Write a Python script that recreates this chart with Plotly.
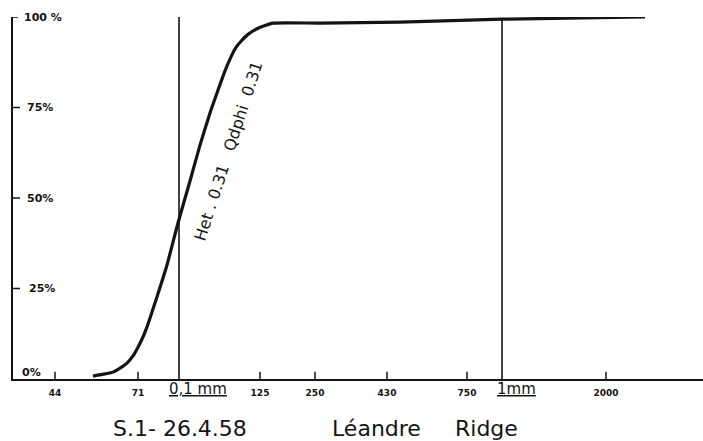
import plotly.graph_objects as go

# Sieve openings (µm) and their positions along the hand-ruled size axis
sieve_labels = ["44", "71", "125", "250", "430", "750", "2000"]
sieve_pos = [42, 125, 247, 302, 374, 454, 593]

# Reference grain sizes marked by full-height lines
ref_labels = ["0,1 mm", "1mm"]
ref_pos = [166, 489]
ref_top = [100.6, 99.4]
ref_label_pos = [185, 503]

# Cumulative curve: position on the size axis vs cumulative weight (%)
curve_pos = [80, 92, 100, 107, 114, 120, 125, 130, 134, 139, 144, 154, 165,
             177, 187, 197, 204, 212, 218, 223, 228, 235, 245, 260, 307, 387,
             489, 632]
curve_pct = [0.8, 1.4, 1.9, 3.0, 4.4, 6.4, 8.8, 11.6, 14.4, 18.5, 22.7, 31.5,
             43.1, 54.7, 64.6, 73.5, 79.0, 85.1, 89.0, 91.6, 93.3, 95.2, 96.9,
             98.3, 98.3, 98.6, 99.4, 100.0]

# Percentage scale labels
pct_vals = [100, 75, 50, 25, 0]
pct_text = ["100 %", "75%", "50%", "25%", "0%"]
pct_ticks = [25, 50, 75]

INK = "#141414"
HAND = "DejaVu Sans"
TICK_UP = 2.0    # tick height on the size axis, in % units
TICK_RIGHT = 7   # tick length on the percentage scale, in size-axis units

fig = go.Figure()

# full-height lines at 0.1 mm and 1 mm
for x, top in zip(ref_pos, ref_top):
    fig.add_trace(go.Scatter(
        x=[x, x], y=[0, top], mode="lines",
        line=dict(color=INK, width=1.6),
        cliponaxis=False, hoverinfo="skip", showlegend=False))

# upward tick marks on the size axis, one short segment each
for p in sieve_pos:
    fig.add_trace(go.Scatter(
        x=[p, p], y=[0, TICK_UP], mode="lines",
        line=dict(color=INK, width=1.5),
        cliponaxis=False, hoverinfo="skip", showlegend=False))

# tick marks on the percentage scale (the 100 % mark crosses the scale)
for v in pct_ticks:
    fig.add_trace(go.Scatter(
        x=[0, TICK_RIGHT], y=[v, v], mode="lines",
        line=dict(color=INK, width=1.5),
        cliponaxis=False, hoverinfo="skip", showlegend=False))
fig.add_trace(go.Scatter(
    x=[-5, 5], y=[100, 100], mode="lines",
    line=dict(color=INK, width=1.6),
    cliponaxis=False, hoverinfo="skip", showlegend=False))

# cumulative grain-size curve
fig.add_trace(go.Scatter(
    x=curve_pos, y=curve_pct, mode="lines",
    line=dict(color=INK, width=3.2, shape="spline", smoothing=0.5),
    cliponaxis=False, showlegend=False))

annotations = []
# percentage labels sit to the right of the vertical scale
pct_x = [9, 12, 12, 14, 7]
pct_y = [100, 75, 50, 25, 1.9]
for t, xx, yy in zip(pct_text, pct_x, pct_y):
    annotations.append(dict(
        x=xx, y=yy, xref="x", yref="y", text="<b>" + t + "</b>",
        showarrow=False, xanchor="left", yanchor="middle",
        font=dict(family=HAND, size=11, color=INK)))

# underlined reference sizes
for t, xx in zip(ref_labels, ref_label_pos):
    annotations.append(dict(
        x=xx, y=(441 - 389) / 441, xref="x", yref="paper",
        text="<u>" + t + "</u>", showarrow=False,
        xanchor="center", yanchor="middle",
        font=dict(family=HAND, size=15, color=INK)))

# sorting coefficients written along the curve
annotations.append(dict(
    x=216, y=63, xref="x", yref="y",
    text="Het . 0.31   Qdphi  0.31", showarrow=False, textangle=-72,
    font=dict(family=HAND, size=16, color=INK)))

# sample reference and locality
for t, px in [("S.1- 26.4.58", 180), ("Léandre", 376), ("Ridge", 486)]:
    annotations.append(dict(
        x=px / 703, y=(441 - 428) / 441, xref="paper", yref="paper",
        text=t, showarrow=False, xanchor="center", yanchor="middle",
        font=dict(family=HAND, size=22, color=INK)))

fig.update_layout(
    width=703, height=441,
    margin=dict(l=0, r=0, t=0, b=0),
    paper_bgcolor="white", plot_bgcolor="white",
    showlegend=False,
    annotations=annotations,
    xaxis=dict(
        domain=[13 / 703, 1], range=[0, 690],
        showgrid=False, zeroline=False,
        showline=True, linecolor=INK, linewidth=1.6,
        tickmode="array", tickvals=sieve_pos,
        ticktext=["<b>" + s + "</b>" for s in sieve_labels],
        ticks="", ticklabelstandoff=4,
        tickfont=dict(family=HAND, size=9, color=INK),
        automargin=False, fixedrange=True),
    yaxis=dict(
        domain=[(441 - 379) / 441, (441 - 17) / 441], range=[0, 100],
        showgrid=False, zeroline=False,
        showline=True, linecolor=INK, linewidth=1.8,
        ticks="", showticklabels=False,
        automargin=False, fixedrange=True),
)

fig.write_html("out.html")
